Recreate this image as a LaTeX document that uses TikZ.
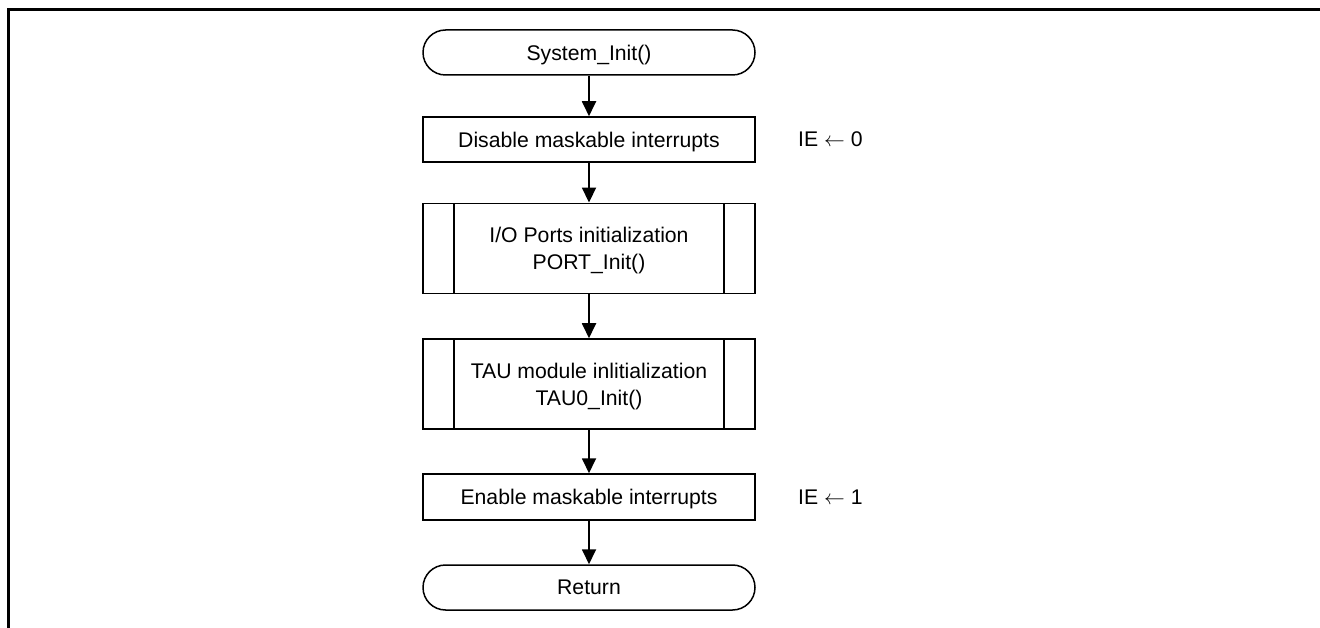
\documentclass[tikz,border=0pt]{standalone}
\usepackage{fontspec}
\setmainfont{Liberation Sans}
\usetikzlibrary{arrows.meta}
\begin{document}
\begin{tikzpicture}[x=1pt,y=-1pt,
  every node/.style={font=\fontsize{21.2}{27}\selectfont},
  box/.style={draw,line width=1.5pt,minimum width=332pt,minimum height=45pt,inner sep=0pt,align=center,text depth=0pt},
  term/.style={box,rounded corners=22.5pt},
  subr/.style={box,minimum height=90pt,
    path picture={\draw[line width=1.5pt]
      ([xshift=31pt]path picture bounding box.north west) -- ([xshift=31pt]path picture bounding box.south west)
      ([xshift=-31pt]path picture bounding box.north east) -- ([xshift=-31pt]path picture bounding box.south east);}},
  flow/.style={line width=1.8pt,-{Triangle[length=15pt,width=14pt]}},
  note/.style={anchor=west,inner sep=0pt,text depth=0pt}]
\useasboundingbox (0,0) rectangle (1320,628);
\draw[line width=3pt] (8.5,628) -- (8.5,9.5) -- (1320,9.5);
\node[term] (start) at (589,52.5) {System\_Init()};
\node[box] (dis) at (589,139.5) {Disable maskable interrupts};
\node[subr] (port) at (589,248.3) {I/O Ports initialization\\PORT\_Init()};
\node[subr] (tau) at (589,384) {TAU module inlitialization\\TAU0\_Init()};
\node[box,minimum height=46pt] (en) at (589,497) {Enable maskable interrupts};
\node[term] (ret) at (589,587.5) {Return};
\node[note] (ie0) at (798,139.5) {IE $\leftarrow$ 0};
\node[note] (ie1) at (798,497) {IE $\leftarrow$ 1};
\draw[flow] (start) -- (dis);
\draw[flow] (dis) -- (port);
\draw[flow] (port) -- (tau);
\draw[flow] (tau) -- (en);
\draw[flow] (en) -- (ret);
\end{tikzpicture}
\end{document}
